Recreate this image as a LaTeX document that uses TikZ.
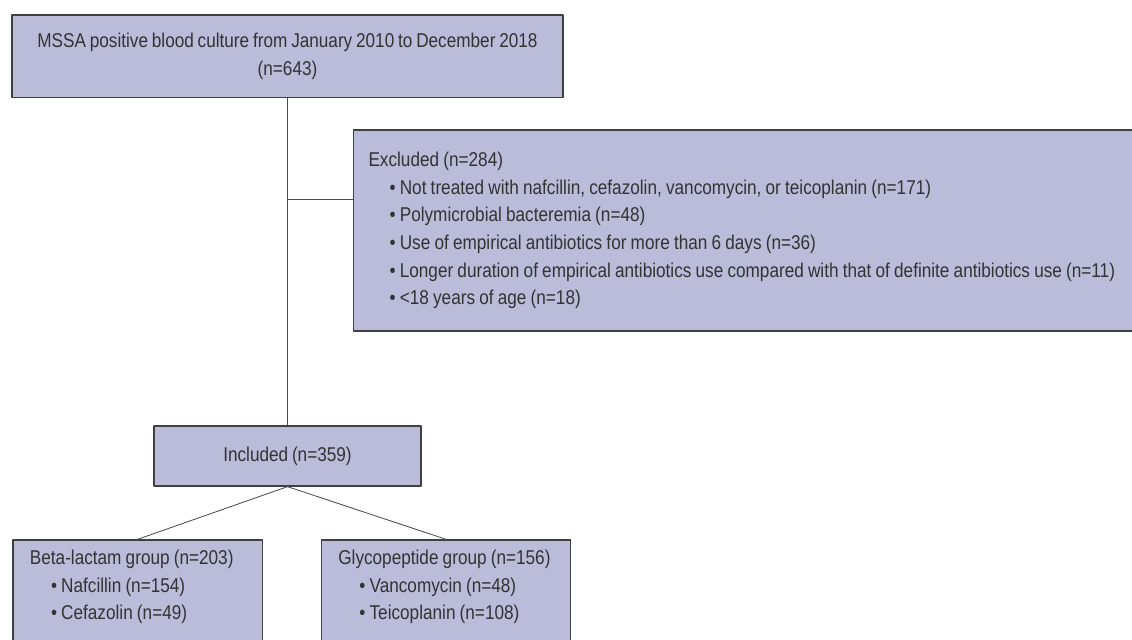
\documentclass[tikz,border=0pt]{standalone}
\usepackage{fontspec}
\setmainfont{Liberation Sans}[FakeStretch=0.86,WordSpace=0.8]
\usepackage{tikz}
\usetikzlibrary{calc,positioning}
\definecolor{boxfill}{RGB}{187,187,218}
\definecolor{boxtext}{RGB}{51,51,51}
\newcommand{\boxfont}{\fontsize{14.2pt}{19.7pt}\selectfont}
\newcommand{\bul}{\hspace*{15pt}\textbullet\ }
\tikzset{box/.style={
            draw=black!75,
            fill=boxfill,
            line width=0.9pt,
            inner sep=0pt,
            text=boxtext,
            font=\boxfont
        },
        listbox/.style={
            box,
            anchor=north west,
            align=flush left,
            inner xsep=0.425cm,
            inner ysep=0.25cm,
            execute at begin node={\spaceskip=0.21em\relax}
        },
        link/.style={
            draw=black!70,
            line width=0.6pt
        }
    }

\begin{document}
\begin{tikzpicture}[line join=round,x=0.025cm,y=-0.025cm]
\path[use as bounding box] (0,0) rectangle (1132,639);
\clip (0,0) rectangle (1132,639);
\node[box,minimum width=13.775cm,minimum height=2.07cm,align=center] (mssa) at (287.5,56.3) {MSSA positive blood culture from January 2010 to December 2018\\(n=643)};
\node[box,minimum width=6.675cm,minimum height=1.5cm] (incl) at (287.5,456) {Included (n=359)};
\node[listbox,inner xsep=0.38cm,inner ysep=0pt,minimum height=5.025cm,text width=24cm] (excl) at (352.7,129.3) {Excluded (n=284)\\
\bul Not treated with nafcillin, cefazolin, vancomycin, or teicoplanin (n=171)\\
\bul Polymicrobial bacteremia (n=48)\\
\bul Use of empirical antibiotics for more than 6 days (n=36)\\
\bul Longer duration of empirical antibiotics use compared with that of definite antibiotics use (n=11)\\
\bul <18 years of age (n=18)};
\node[listbox,text width=5.385cm] (beta) at (12.3,539.3) {Beta-lactam group (n=203)\\
\bul Nafcillin (n=154)\\
\bul Cefazolin (n=49)\rule[-14pt]{0pt}{1pt}};
\node[listbox,text width=5.385cm] (glyco) at (320.7,539.3) {Glycopeptide group (n=156)\\
\bul Vancomycin (n=48)\\
\bul Teicoplanin (n=108)\rule[-14pt]{0pt}{1pt}};
\coordinate (branch) at (287.5,199);
\draw[link] (mssa.south)--(incl.north);
\draw[link] (branch)--(excl.west |- branch);
\draw[link] (incl.south)--(beta.north);
\draw[link] (incl.south)--(glyco.north);
\end{tikzpicture}
\end{document}
